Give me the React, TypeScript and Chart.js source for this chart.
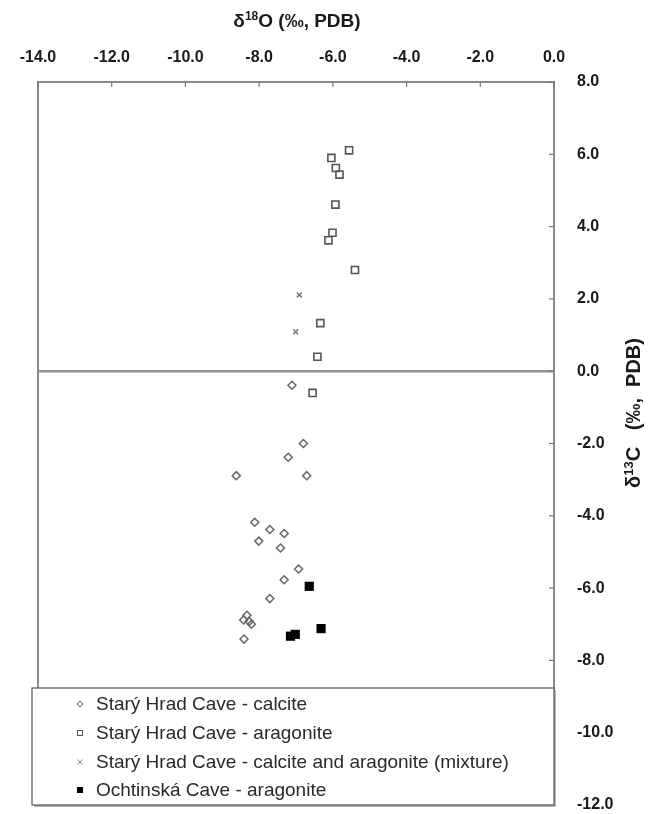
import React, { useEffect, useRef } from "react";
import { Chart, registerables } from "chart.js";

Chart.register(...registerables);

// ---- data ----
const xTickValues = [-14, -12, -10, -8, -6, -4, -2, 0];
const yTickValues = [8, 6, 4, 2, 0, -2, -4, -6, -8, -10, -12];

const seriesLabels = [
  "Starý Hrad Cave - calcite",
  "Starý Hrad Cave - aragonite",
  "Starý Hrad Cave - calcite and aragonite (mixture)",
  "Ochtinská Cave - aragonite",
];

const calciteO = [-7.11, -6.8, -7.21, -8.62, -6.71, -8.12, -7.71, -7.32, -8.01, -7.42, -6.93, -7.32, -7.71, -8.33, -8.42, -8.27, -8.21, -8.41];
const calciteC = [-0.39, -2.0, -2.38, -2.89, -2.89, -4.18, -4.38, -4.49, -4.7, -4.89, -5.47, -5.77, -6.29, -6.75, -6.88, -6.92, -7.0, -7.41];

const aragoniteO = [-5.56, -6.04, -5.92, -5.82, -5.93, -6.01, -6.12, -5.4, -6.34, -6.42, -6.55];
const aragoniteC = [6.11, 5.9, 5.62, 5.44, 4.61, 3.83, 3.62, 2.8, 1.33, 0.4, -0.6];

const mixtureO = [-6.91, -7.01];
const mixtureC = [2.11, 1.09];

const ochtinskaO = [-6.64, -6.32, -7.15, -7.02];
const ochtinskaC = [-5.95, -7.12, -7.33, -7.28];

const toPoints = (xs: number[], ys: number[]) => xs.map((v, i) => ({ x: v, y: ys[i] }));

const FONT = "'Liberation Sans', Arial, sans-serif";

const decor = {
  id: "decor",
  beforeDatasetsDraw(chart: any) {
    const { ctx, chartArea, scales } = chart;
    const { left, right, top, bottom } = chartArea;
    const x = scales.x;
    const y = scales.y;
    ctx.save();
    const line = (x1: number, y1: number, x2: number, y2: number) => {
      ctx.beginPath();
      ctx.moveTo(x1, y1);
      ctx.lineTo(x2, y2);
      ctx.stroke();
    };
    ctx.strokeStyle = "#8a8a8a";
    ctx.lineWidth = 2;
    ctx.strokeRect(left, top, right - left, bottom - top);
    const y0 = y.getPixelForValue(0);
    ctx.lineWidth = 2.5;
    ctx.strokeStyle = "#8f8f8f";
    line(left, y0, right, y0);
    ctx.lineWidth = 1.2;
    ctx.strokeStyle = "#777";
    xTickValues.forEach((v) => {
      const px = x.getPixelForValue(v);
      line(px, top, px, top + 5);
    });
    yTickValues.forEach((v) => {
      const py = y.getPixelForValue(v);
      line(right - 5, py, right, py);
    });
    ctx.restore();
  },
  afterDraw(chart: any) {
    const { ctx, chartArea } = chart;
    const { left, right, bottom } = chartArea;
    ctx.save();
    const drawSupTitle = (pre: string, sup: string, post: string, cx: number, cy: number, size: number) => {
      const supSize = Math.round(size * 0.63);
      ctx.font = `bold ${size}px ${FONT}`;
      const w1 = ctx.measureText(pre).width;
      const w3 = ctx.measureText(post).width;
      ctx.font = `bold ${supSize}px ${FONT}`;
      const w2 = ctx.measureText(sup).width;
      const total = w1 + w2 + w3;
      let sx = cx - total / 2;
      ctx.fillStyle = "#1a1a1a";
      ctx.textBaseline = "alphabetic";
      ctx.textAlign = "left";
      ctx.font = `bold ${size}px ${FONT}`;
      ctx.fillText(pre, sx, cy);
      sx += w1;
      ctx.font = `bold ${supSize}px ${FONT}`;
      ctx.fillText(sup, sx, cy - size * 0.37);
      sx += w2;
      ctx.font = `bold ${size}px ${FONT}`;
      ctx.fillText(post, sx, cy);
    };
    drawSupTitle("δ", "18", "O (‰, PDB)", 297, 27, 19);
    ctx.save();
    ctx.translate(640, 413);
    ctx.rotate(-Math.PI / 2);
    drawSupTitle("δ", "13", "C   (‰,  PDB)", 0, 0, 20);
    ctx.restore();

    // legend box
    const lx = left - 6;
    const ly = 688;
    const lw = right - lx;
    const lh = bottom - ly;
    ctx.fillStyle = "#b5b5b5";
    ctx.fillRect(lx + 2, ly + 2, lw, lh);
    ctx.fillStyle = "#ffffff";
    ctx.fillRect(lx, ly, lw, lh);
    ctx.strokeStyle = "#555";
    ctx.lineWidth = 1.2;
    ctx.strokeRect(lx, ly, lw, lh);

    const rowY = [ly + 16, ly + 45, ly + 74, ly + 102];
    const mx = lx + 48;
    const tx = lx + 64;
    ctx.font = `19px ${FONT}`;
    ctx.textBaseline = "middle";
    ctx.textAlign = "left";
    seriesLabels.forEach((lab, i) => {
      const yy = rowY[i];
      ctx.lineWidth = 1;
      if (i === 0) {
        ctx.strokeStyle = "#666";
        ctx.beginPath();
        ctx.moveTo(mx - 3, yy);
        ctx.lineTo(mx, yy - 3);
        ctx.lineTo(mx + 3, yy);
        ctx.lineTo(mx, yy + 3);
        ctx.closePath();
        ctx.stroke();
      } else if (i === 1) {
        ctx.strokeStyle = "#555";
        ctx.strokeRect(mx - 2.5, yy - 2.5, 5, 5);
      } else if (i === 2) {
        ctx.strokeStyle = "#888";
        ctx.beginPath();
        ctx.moveTo(mx - 2.5, yy - 2.5);
        ctx.lineTo(mx + 2.5, yy + 2.5);
        ctx.moveTo(mx + 2.5, yy - 2.5);
        ctx.lineTo(mx - 2.5, yy + 2.5);
        ctx.stroke();
      } else {
        ctx.fillStyle = "#000";
        ctx.fillRect(mx - 3, yy - 3, 6, 6);
      }
      ctx.fillStyle = "#2a2a2a";
      ctx.fillText(lab, tx, yy + 1);
    });
    ctx.restore();
  },
};

export default function App() {
  const ref = useRef<HTMLCanvasElement | null>(null);
  useEffect(() => {
    if (!ref.current) return;
    const chart = new Chart(ref.current, {
      type: "scatter",
      data: {
        datasets: [
          {
            label: seriesLabels[0],
            data: toPoints(calciteO, calciteC),
            pointStyle: "rectRot",
            pointRadius: 4,
            borderColor: "#666",
            backgroundColor: "rgba(255,255,255,0)",
            borderWidth: 1.5,
          },
          {
            label: seriesLabels[1],
            data: toPoints(aragoniteO, aragoniteC),
            pointStyle: "rect",
            pointRadius: 5,
            borderColor: "#555",
            backgroundColor: "rgba(255,255,255,0)",
            borderWidth: 1.6,
          },
          {
            label: seriesLabels[2],
            data: toPoints(mixtureO, mixtureC),
            pointStyle: "crossRot",
            pointRadius: 3.5,
            borderColor: "#777",
            backgroundColor: "#777",
            borderWidth: 1.5,
          },
          {
            label: seriesLabels[3],
            data: toPoints(ochtinskaO, ochtinskaC),
            pointStyle: "rect",
            pointRadius: 6.5,
            borderColor: "#000",
            backgroundColor: "#000",
            borderWidth: 0,
          },
        ],
      },
      options: {
        responsive: false,
        animation: false,
        events: [],
        layout: { padding: { left: 38, right: 0, top: 0, bottom: 9 } },
        plugins: { legend: { display: false }, tooltip: { enabled: false } },
        scales: {
          x: {
            type: "linear",
            position: "top",
            min: -14,
            max: 0,
            afterBuildTicks: (s: any) => {
              s.ticks = xTickValues.map((v) => ({ value: v }));
            },
            afterFit: (s: any) => {
              s.height = 82;
              s.paddingLeft = 0;
              s.paddingRight = 0;
            },
            grid: { display: false },
            border: { display: false },
            ticks: {
              padding: 7,
              color: "#1a1a1a",
              font: { family: FONT, size: 16, weight: "bold" },
              callback: (v: any) => Number(v).toFixed(1),
            },
          },
          y: {
            type: "linear",
            position: "right",
            min: -12,
            max: 8,
            afterBuildTicks: (s: any) => {
              s.ticks = yTickValues.map((v) => ({ value: v }));
            },
            afterFit: (s: any) => {
              s.width = 102;
              s.paddingTop = 0;
              s.paddingBottom = 0;
            },
            grid: { display: false },
            border: { display: false },
            ticks: {
              padding: 15,
              color: "#1a1a1a",
              font: { family: FONT, size: 16, weight: "bold" },
              callback: (v: any) => Number(v).toFixed(1),
            },
          },
        },
      },
      plugins: [decor],
    });
    return () => chart.destroy();
  }, []);
  return (
    <div style={{ position: "absolute", left: 0, top: 0, width: 656, height: 814, background: "#fff" }}>
      <canvas ref={ref} width={656} height={814} style={{ display: "block" }} />
    </div>
  );
}
